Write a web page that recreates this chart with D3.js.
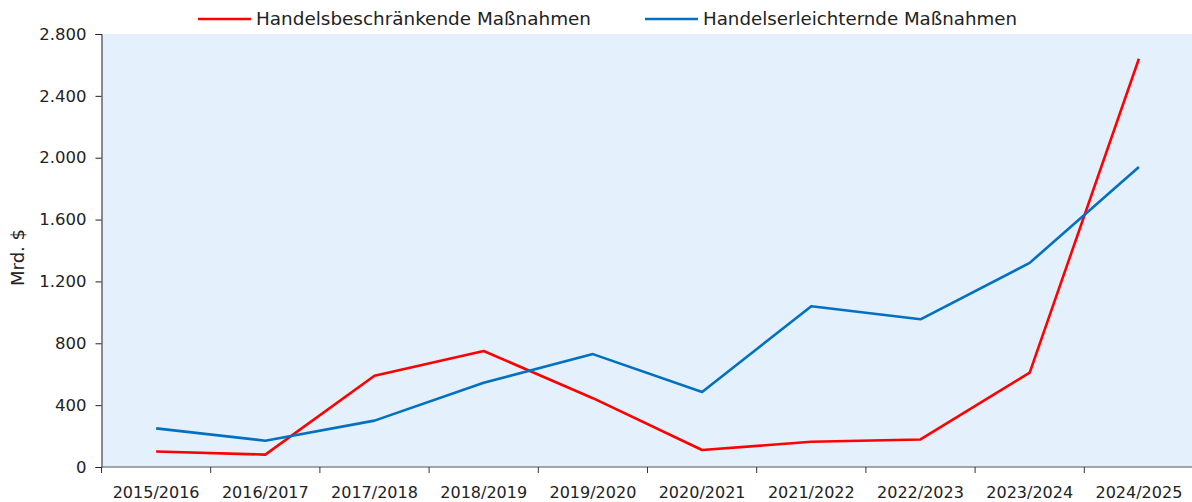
<!DOCTYPE html>
<html>
<head>
<meta charset="utf-8">
<script src="https://cdn.jsdelivr.net/npm/d3@7/dist/d3.min.js"></script>
<style>
  html, body { margin: 0; padding: 0; background: #fff; }
  svg { display: block; font-family: "DejaVu Sans", sans-serif; }
</style>
</head>
<body>
<svg id="chart" width="1192" height="502"></svg>
<script>
// Fiscal years
const categories = ["2015/2016","2016/2017","2017/2018","2018/2019","2019/2020",
                    "2020/2021","2021/2022","2022/2023","2023/2024","2024/2025"];
// Trade volume covered by measures, Mrd. $
const restrictive = [100, 80, 590, 750, 445, 110, 163, 178, 610, 2640];
const liberalising = [250, 170, 300, 545, 730, 485, 1040, 955, 1320, 1940];
const yTicks = [0, 400, 800, 1200, 1600, 2000, 2400, 2800];
const seriesNames = ["Handelsbeschränkende Maßnahmen", "Handelserleichternde Maßnahmen"];
const seriesColors = ["#ff0000", "#0070c0"];

const svg = d3.select("#chart");
const margin = { left: 101.5, right: -1.5, top: 34, bottom: 35 };
const W = 1192, H = 502;
const innerW = W - margin.left - margin.right;
const innerH = H - margin.top - margin.bottom;

const x = d3.scaleBand().domain(categories).range([0, innerW]);
const y = d3.scaleLinear().domain([0, 2800]).range([innerH, 0]);

const g = svg.append("g").attr("transform", `translate(${margin.left},${margin.top})`);

g.append("rect").attr("width", innerW).attr("height", innerH).attr("fill", "#e4f0fc");

const fmt = d3.formatLocale({ decimal: ",", thousands: ".", grouping: [3], currency: ["", " $"] }).format(",.0f");

// y axis
const yAxis = g.append("g").call(d3.axisLeft(y).tickValues(yTicks).tickSize(6).tickPadding(9).tickFormat(fmt));
yAxis.select(".domain").attr("stroke", "#222");
yAxis.selectAll(".tick line").attr("stroke", "#222");
yAxis.selectAll("text").attr("font-size", 16.5).attr("fill", "#222").attr("font-family", "DejaVu Sans");

// x axis: ticks at category boundaries, labels centered
const xAxisG = g.append("g").attr("transform", `translate(0,${innerH})`);
xAxisG.append("line").attr("x1", 0).attr("x2", innerW).attr("stroke", "#555");
xAxisG.selectAll("line.tk").data(categories).enter().append("line")
  .attr("class", "tk")
  .attr("x1", d => x(d)).attr("x2", d => x(d))
  .attr("y1", 0).attr("y2", 6).attr("stroke", "#333");
xAxisG.selectAll("text").data(categories).enter().append("text")
  .attr("x", d => x(d) + x.bandwidth() / 2)
  .attr("y", 31)
  .attr("text-anchor", "middle")
  .attr("font-size", 16).attr("fill", "#222")
  .text(d => d);

// y label
svg.append("text")
  .attr("transform", `translate(24,${margin.top + innerH / 2 + 7}) rotate(-90)`)
  .attr("text-anchor", "middle")
  .attr("font-size", 17).attr("fill", "#222")
  .attr("textLength", 57).attr("lengthAdjust", "spacingAndGlyphs")
  .text("Mrd. $");

// lines
const line = d3.line()
  .x((d, i) => x(categories[i]) + x.bandwidth() / 2)
  .y(d => y(d));

[restrictive, liberalising].forEach((vals, k) => {
  g.append("path").datum(vals)
    .attr("fill", "none")
    .attr("stroke", seriesColors[k])
    .attr("stroke-width", 2.6)
    .attr("stroke-linejoin", "round")
    .attr("d", line);
});

// legend
const legendX = [198, 645];
const legendTextW = [335, 314];
seriesNames.forEach((name, k) => {
  const lg = svg.append("g").attr("transform", `translate(${legendX[k]},19)`);
  lg.append("line").attr("x1", 0).attr("x2", 53).attr("stroke", seriesColors[k]).attr("stroke-width", 2.6);
  lg.append("text").attr("x", 58).attr("y", 6).attr("font-size", 17).attr("fill", "#222")
    .attr("textLength", legendTextW[k]).attr("lengthAdjust", "spacingAndGlyphs")
    .text(name);
});
</script>
</body>
</html>
